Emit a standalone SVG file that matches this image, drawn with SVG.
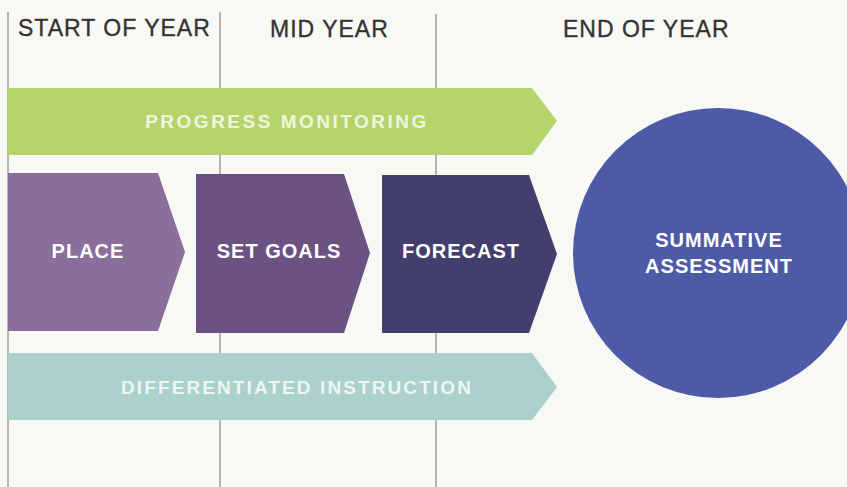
<svg xmlns="http://www.w3.org/2000/svg" width="847" height="487" viewBox="0 0 847 487">
  <style>
    .hdr { font-family: "Liberation Sans", Arial, sans-serif; font-size: 23px; fill: #333333; stroke: #333333; stroke-width: 0.35px; letter-spacing: 1px; }
    .lbl { font-family: "Liberation Sans", Arial, sans-serif; font-size: 20px; font-weight: bold; fill: #ffffff; letter-spacing: 1px; text-anchor: middle; }
    .band { font-family: "Liberation Sans", Arial, sans-serif; font-size: 19px; font-weight: bold; text-anchor: middle; }
    .div { stroke: #7e7e7e; stroke-width: 1.1; fill: none; }
  </style>
  <rect x="0" y="0" width="847" height="487" fill="#f8f9f5"/>

  <g id="dividers">
    <line class="div" x1="8" y1="12" x2="8" y2="487"/>
    <line class="div" x1="220" y1="12" x2="220" y2="487"/>
    <line class="div" x1="436" y1="14" x2="436" y2="487"/>
  </g>

  <g id="headers">
    <text class="hdr" x="18" y="36">START OF YEAR</text>
    <text class="hdr" x="270" y="37">MID YEAR</text>
    <text class="hdr" x="563" y="37">END OF YEAR</text>
  </g>

  <g id="progress-monitoring">
    <path d="M8,88 L532,88 L557,121 L532,155 L8,155 Z" fill="#b5d56c"/>
    <text class="band" x="287" y="128" fill="#eef5de" style="letter-spacing:2.5px">PROGRESS MONITORING</text>
  </g>

  <g id="place">
    <path d="M8,173 L158,173 L185,252 L158,331 L8,331 Z" fill="#8b6e9b"/>
    <text class="lbl" x="88" y="258">PLACE</text>
  </g>

  <g id="set-goals">
    <path d="M196,174 L344,174 L370,253 L344,333 L196,333 Z" fill="#6c5282"/>
    <text class="lbl" x="279" y="258">SET GOALS</text>
  </g>

  <g id="forecast">
    <path d="M382,175 L529,175 L557,254 L529,333 L382,333 Z" fill="#423e6d"/>
    <text class="lbl" x="461" y="258">FORECAST</text>
  </g>

  <g id="summative-assessment">
    <circle cx="718" cy="253" r="145" fill="#4d5ba7"/>
    <text class="lbl" x="719" y="247">SUMMATIVE</text>
    <text class="lbl" x="719" y="273">ASSESSMENT</text>
  </g>

  <g id="differentiated-instruction">
    <path d="M8,353 L532,353 L557,387 L532,420 L8,420 Z" fill="#acd0cb"/>
    <text class="band" x="297" y="394" fill="#eef6f4" style="letter-spacing:2.1px">DIFFERENTIATED INSTRUCTION</text>
  </g>

  <g id="connectors"></g>
</svg>
